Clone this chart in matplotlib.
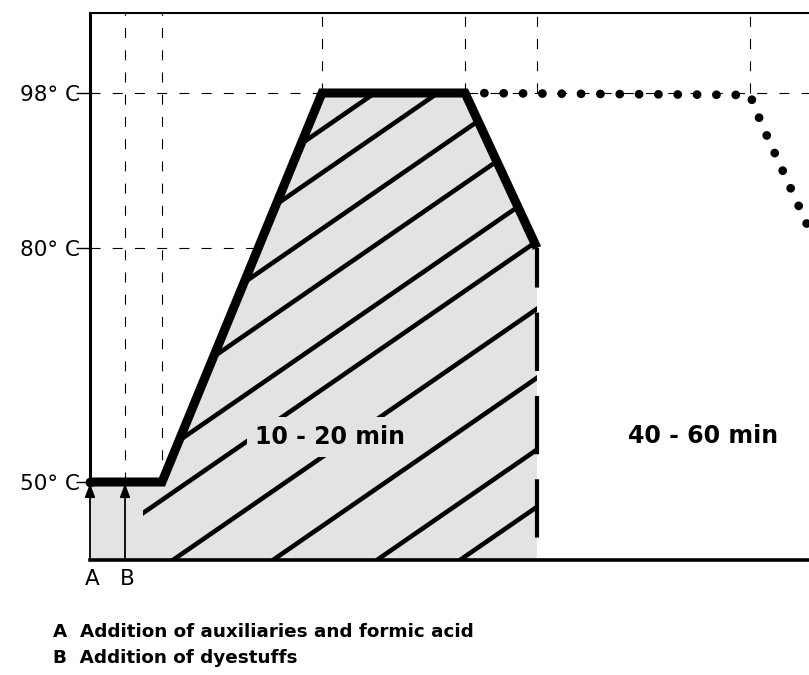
import matplotlib
matplotlib.use("Agg")
import matplotlib.pyplot as plt
from matplotlib.patches import Polygon
import numpy as np

# ---- schematic data (x: process stages, y: temperature levels on the schematic axis) ----
temp_labels = ["50° C", "80° C", "98° C"]
temp_pos = [7.8, 31.2, 46.7]          # schematic height of each temperature level
Y50, Y80, Y98 = temp_pos

profile_x = [0.0, 7.2, 23.2, 37.5, 44.7]
profile_y = [Y50, Y50, Y98, Y98, Y80]

drop_x = 44.7                         # end of the 10-20 min stage
hold_x = [37.5, 66.0, 67.2, 74.0]     # dotted 40-60 min branch
hold_y = [Y98, 46.5, 43.5, 28.5]

event_x = [0.0, 3.5]                  # A, B
event_labels = ["A", "B"]

grid_x_to50 = [3.5, 7.2]
grid_x_to98 = [23.2, 37.5, 44.7, 66.0]

stage_labels = ["10 - 20 min", "40 - 60 min"]
stage_pos = [(24.0, 12.3), (61.3, 12.4)]

notes = ["A  Addition of auxiliaries and formic acid", "B  Addition of dyestuffs"]

# hatch line intercepts at y=0 (style of the hand-drawn hatching)
hatch_c = [-39.2, -32.9, -24.8, -17.1, -8.4, -1.5, 8.3, 18.3, 28.7, 37.0]
hatch_slope = 0.69
hatch_left = 5.3

XMAX, YMAX = 71.9, 54.7

fig = plt.figure(figsize=(8.09, 6.75), dpi=100)
ax = fig.add_axes([90/809, 115/675, 719/809, 547/675])
ax.set_xlim(0, XMAX)
ax.set_ylim(0, YMAX)

# spines
ax.spines['right'].set_visible(False)
ax.spines['top'].set_linewidth(1.5)
ax.spines['bottom'].set_linewidth(2.6)
ax.spines['left'].set_linewidth(2.2)
ax.spines['left'].set_bounds(Y50, YMAX)
for s in ax.spines.values():
    s.set_color('black')

ax.set_xticks([])
ax.set_yticks(temp_pos)
ax.set_yticklabels(temp_labels, fontsize=15.5, family='DejaVu Sans')
ax.tick_params(axis='y', direction='out', length=10, width=1.0, pad=-2.5)

grid_kw = dict(color='black', lw=0.8, linestyle=(0, (9, 11)), zorder=1)
# horizontal guides
ax.plot([0, XMAX], [Y98, Y98], **grid_kw)
ax.plot([0, 18.0], [Y80, Y80], **grid_kw)
# vertical guides
for gx in grid_x_to50:
    ax.plot([gx, gx], [Y50, YMAX], **grid_kw)
for gx in grid_x_to98:
    ax.plot([gx, gx], [Y98, YMAX], **grid_kw)

# shaded region
poly_xy = [(0, 0), (0, Y50)] + list(zip(profile_x[1:], profile_y[1:])) + [(drop_x, 0)]
fill_color = '#e3e3e3'
poly = Polygon(poly_xy, closed=True, facecolor=fill_color, edgecolor='none', zorder=2)
ax.add_patch(poly)

hatch_xy = [(hatch_left, 0), (hatch_left, Y50)] + list(zip(profile_x[1:], profile_y[1:])) + [(drop_x, 0)]
hatch_clip = Polygon(hatch_xy, closed=True, facecolor='none', edgecolor='none',
                     transform=ax.transData)

xs = np.array([-60.0, 80.0])
for c in hatch_c:
    ln, = ax.plot(xs, hatch_slope * (xs - c), color='black', lw=3.3,
                  solid_capstyle='round', zorder=3)
    ln.set_clip_path(hatch_clip)

# stage labels
ax.text(*stage_pos[0], stage_labels[0], fontsize=17, fontweight='bold',
        family='DejaVu Sans', ha='center', va='center', zorder=4,
        bbox=dict(boxstyle='square,pad=0.35', fc=fill_color, ec='none'))
ax.text(*stage_pos[1], stage_labels[1], fontsize=17, fontweight='bold',
        family='DejaVu Sans', ha='center', va='center', zorder=4)

# temperature profile
ax.plot(profile_x, profile_y, color='black', lw=6.5, solid_joinstyle='miter',
        solid_capstyle='butt', zorder=5, clip_on=False)
ax.plot(profile_x[:2], profile_y[:2], color='black', lw=4.5, zorder=5, clip_on=False)
ax.plot([profile_x[0]], [profile_y[0]], 'o', color='black', ms=6, zorder=6, clip_on=False)
ax.plot([drop_x, drop_x], [Y80, 0], color='black', lw=3.0,
        linestyle=(4.5, (14, 6)), zorder=5)

# dotted holding branch
ax.plot(hold_x, hold_y, color='black', lw=6.3, linestyle=(0, (0.01, 2.2)),
        dash_capstyle='round', zorder=5)

# event arrows A, B
for ex, lab in zip(event_x, event_labels):
    ax.annotate('', xy=(ex, Y50 - 0.15), xytext=(ex, 0),
                arrowprops=dict(arrowstyle='-|>,head_length=0.8,head_width=0.3',
                                color='black', lw=1.3, shrinkA=0, shrinkB=0),
                zorder=6, annotation_clip=False)
    ax.text(ex + 0.2, -0.9, lab, fontsize=15.5, family='DejaVu Sans',
            ha='center', va='top', clip_on=False)

# notes
fig.text(53/809, 1 - 632/675, notes[0], fontsize=13.2, fontweight='bold',
         family='DejaVu Sans', ha='left', va='center')
fig.text(53/809, 1 - 658/675, notes[1], fontsize=13.2, fontweight='bold',
         family='DejaVu Sans', ha='left', va='center')

fig.savefig('out.png', dpi=100)
